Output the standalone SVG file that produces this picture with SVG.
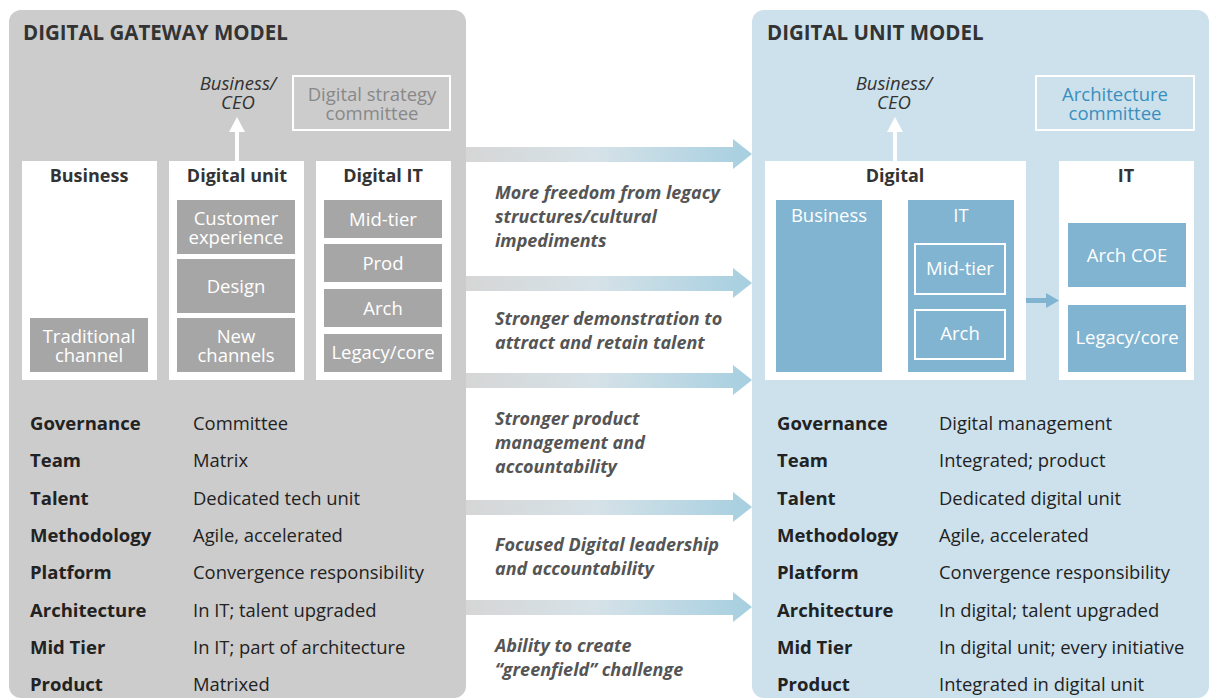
<svg xmlns="http://www.w3.org/2000/svg" width="1209" height="700" viewBox="0 0 1209 700">
<style>
text{font-family:"Open Sans","Noto Sans","Liberation Sans",sans-serif}
.title{font-size:20.5px;font-weight:700;fill:#333}
.hdr{font-size:18px;font-weight:700;fill:#333;text-anchor:middle}
.ceo{font-size:18.5px;font-style:italic;fill:#333;text-anchor:middle}
.gbox{fill:#a6a6a6}
.bbox{fill:#80b4d0}
.wt{font-size:18.5px;fill:#fff;text-anchor:middle}
.lbl{font-size:18.5px;font-weight:700;fill:#222}
.val{font-size:18.4px;fill:#222}
.mid{font-size:18px;font-weight:700;font-style:italic;fill:#555}
.cm{font-size:18.5px;text-anchor:middle}
</style>
<defs>
<linearGradient id="gr" x1="0" y1="0" x2="1" y2="0">
<stop offset="0" stop-color="#d6d6d6"/>
<stop offset="0.45" stop-color="#d6e2e8"/>
<stop offset="1" stop-color="#a6cfe0"/>
</linearGradient>
</defs>
<rect width="1209" height="700" fill="#fff"/>
<g id="left-panel">
<rect x="9" y="10" width="457" height="688" rx="12" fill="#cccccc"/>
<text class="title" x="23" y="40">DIGITAL GATEWAY MODEL</text>
</g>
<g id="right-panel">
<rect x="752" y="10" width="457" height="688" rx="12" fill="#cce1ec"/>
<text class="title" x="767" y="40">DIGITAL UNIT MODEL</text>
</g>
<g id="connectors">
<g fill="#fff">
<rect x="235" y="130" width="4" height="31"/>
<polygon points="237,117 229,132 245,132"/>
<rect x="893" y="130" width="4" height="31"/>
<polygon points="895,117 887,132 903,132"/>
</g>
<g fill="#80b4d0">
<rect x="1014" y="298" width="33" height="5"/>
<polygon points="1046,293 1059,300.5 1046,308"/>
</g>
<g fill="url(#gr)">
<polygon points="466,147 733,147 733,139 752,154 733,169 733,162 466,162"/>
<polygon points="466,276 733,276 733,268 752,283 733,298 733,291 466,291"/>
<polygon points="466,373 733,373 733,365 752,380 733,395 733,388 466,388"/>
<polygon points="466,500 733,500 733,492 752,507 733,522 733,515 466,515"/>
<polygon points="466,600 733,600 733,592 752,607 733,622 733,615 466,615"/>
</g>
</g>
<g id="ceo-left"><text class="ceo" x="238" y="89.5">Business/</text><text class="ceo" x="238" y="108.5">CEO</text></g>
<g id="strategy-committee">
<rect x="293" y="76" width="157" height="54" fill="none" stroke="#fff" stroke-width="2"/>
<text class="cm" x="372" y="100.5" fill="#888">Digital strategy</text>
<text class="cm" x="372" y="119.5" fill="#888">committee</text>
</g>
<g id="business">
<rect x="22" y="161" width="135" height="219" fill="#fff"/>
<text class="hdr" x="89" y="182">Business</text>
<rect class="gbox" x="30" y="318" width="118" height="54"/>
<text class="wt" x="89" y="342.5">Traditional</text><text class="wt" x="89" y="361.5">channel</text>
</g>
<g id="digital-unit">
<rect x="169" y="161" width="135" height="219" fill="#fff"/>
<text class="hdr" x="237" y="182">Digital unit</text>
<rect class="gbox" x="177" y="200" width="118" height="54"/>
<text class="wt" x="236" y="224.5">Customer</text><text class="wt" x="236" y="243.5">experience</text>
<rect class="gbox" x="177" y="259" width="118" height="54"/>
<text class="wt" x="236" y="293">Design</text>
<rect class="gbox" x="177" y="318" width="118" height="54"/>
<text class="wt" x="236" y="342.5">New</text><text class="wt" x="236" y="361.5">channels</text>
</g>
<g id="digital-it">
<rect x="316" y="161" width="135" height="219" fill="#fff"/>
<text class="hdr" x="383" y="182">Digital IT</text>
<rect class="gbox" x="324" y="200" width="118" height="38"/>
<text class="wt" x="383" y="226">Mid-tier</text>
<rect class="gbox" x="324" y="244" width="118" height="38"/>
<text class="wt" x="383" y="270">Prod</text>
<rect class="gbox" x="324" y="289" width="118" height="38"/>
<text class="wt" x="383" y="315">Arch</text>
<rect class="gbox" x="324" y="334" width="118" height="38"/>
<text class="wt" x="383" y="359">Legacy/core</text>
</g>
<g id="left-table">
<text class="lbl" x="30" y="430">Governance</text><text class="val" x="193" y="430">Committee</text>
<text class="lbl" x="30" y="467">Team</text><text class="val" x="193" y="467">Matrix</text>
<text class="lbl" x="30" y="505">Talent</text><text class="val" x="193" y="505">Dedicated tech unit</text>
<text class="lbl" x="30" y="542">Methodology</text><text class="val" x="193" y="542">Agile, accelerated</text>
<text class="lbl" x="30" y="579">Platform</text><text class="val" x="193" y="579">Convergence responsibility</text>
<text class="lbl" x="30" y="617">Architecture</text><text class="val" x="193" y="617">In IT; talent upgraded</text>
<text class="lbl" x="30" y="654">Mid Tier</text><text class="val" x="193" y="654">In IT; part of architecture</text>
<text class="lbl" x="30" y="691">Product</text><text class="val" x="193" y="691">Matrixed</text>
</g>
<g id="benefits">
<text class="mid" x="495" y="199">More freedom from legacy</text>
<text class="mid" x="495" y="223">structures/cultural</text>
<text class="mid" x="495" y="247">impediments</text>
<text class="mid" x="495" y="325">Stronger demonstration to</text>
<text class="mid" x="495" y="349">attract and retain talent</text>
<text class="mid" x="495" y="425">Stronger product</text>
<text class="mid" x="495" y="449">management and</text>
<text class="mid" x="495" y="473">accountability</text>
<text class="mid" x="495" y="551">Focused Digital leadership</text>
<text class="mid" x="495" y="575">and accountability</text>
<text class="mid" x="495" y="652">Ability to create</text>
<text class="mid" x="495" y="676">“greenfield” challenge</text>
</g>
<g id="ceo-right"><text class="ceo" x="894" y="89.5">Business/</text><text class="ceo" x="894" y="108.5">CEO</text></g>
<g id="arch-committee">
<rect x="1036" y="76" width="158" height="54" fill="none" stroke="#fff" stroke-width="2"/>
<text class="cm" x="1115" y="100.5" fill="#3a8fbd">Architecture</text>
<text class="cm" x="1115" y="119.5" fill="#3a8fbd">committee</text>
</g>
<g id="digital">
<rect x="765" y="161" width="261" height="219" fill="#fff"/>
<text class="hdr" x="895" y="182">Digital</text>
<rect class="bbox" x="776" y="200" width="106" height="172"/>
<text class="wt" x="829" y="222">Business</text>
<rect class="bbox" x="908" y="200" width="106" height="172"/>
<text class="wt" x="961" y="222">IT</text>
<rect x="915" y="244" width="90" height="50" fill="none" stroke="#fff" stroke-width="2"/>
<text class="wt" x="960" y="275">Mid-tier</text>
<rect x="915" y="310" width="90" height="49" fill="none" stroke="#fff" stroke-width="2"/>
<text class="wt" x="960" y="340">Arch</text>
</g>
<g id="it">
<rect x="1059" y="161" width="135" height="219" fill="#fff"/>
<text class="hdr" x="1126" y="182">IT</text>
<rect class="bbox" x="1068" y="223" width="118" height="64"/>
<text class="wt" x="1127" y="262">Arch COE</text>
<rect class="bbox" x="1068" y="305" width="118" height="67"/>
<text class="wt" x="1127" y="344">Legacy/core</text>
</g>
<g id="right-table">
<text class="lbl" x="777" y="430">Governance</text><text class="val" x="939" y="430">Digital management</text>
<text class="lbl" x="777" y="467">Team</text><text class="val" x="939" y="467">Integrated; product</text>
<text class="lbl" x="777" y="505">Talent</text><text class="val" x="939" y="505">Dedicated digital unit</text>
<text class="lbl" x="777" y="542">Methodology</text><text class="val" x="939" y="542">Agile, accelerated</text>
<text class="lbl" x="777" y="579">Platform</text><text class="val" x="939" y="579">Convergence responsibility</text>
<text class="lbl" x="777" y="617">Architecture</text><text class="val" x="939" y="617">In digital; talent upgraded</text>
<text class="lbl" x="777" y="654">Mid Tier</text><text class="val" x="939" y="654">In digital unit; every initiative</text>
<text class="lbl" x="777" y="691">Product</text><text class="val" x="939" y="691">Integrated in digital unit</text>
</g>
</svg>
